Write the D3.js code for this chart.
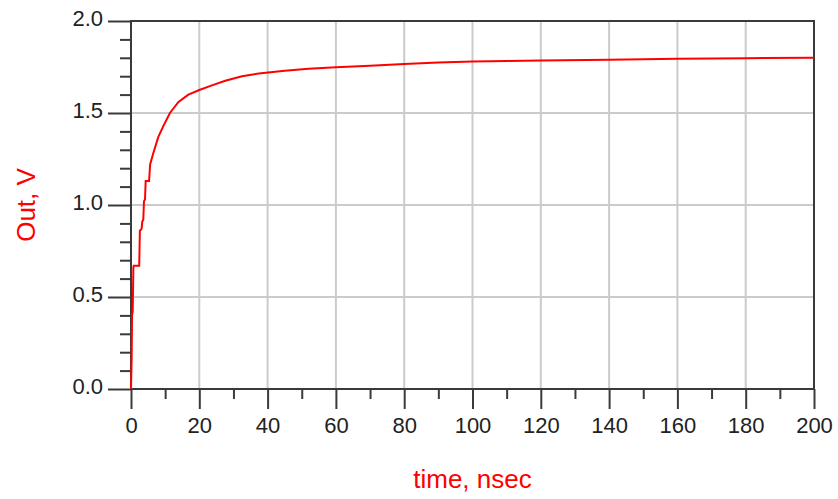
<!DOCTYPE html>
<html>
<head>
<meta charset="utf-8">
<script src="https://cdn.jsdelivr.net/npm/d3@7"></script>
<style>
	body { margin: 0; background: #fff; }
	text { font-family: "Liberation Sans", Arial, sans-serif; }
</style>
</head>
<body>
<svg id="chart" width="838" height="499"></svg>
<script>
	var timeNs = [0, 0.2, 0.3, 0.5, 0.7, 0.8, 2.4, 2.6, 3.1, 3.3, 3.6, 3.8, 4.1, 4.3, 5.3, 5.6,
		6.5, 8.0, 9.5, 11.4, 13.9, 16.8, 20, 23.7, 27.6, 32.5, 37.4, 45, 52, 60, 70, 80, 90,
		100, 110, 120, 140, 160, 180, 200];
	var outV = [0, 0.17, 0.40, 0.42, 0.66, 0.67, 0.67, 0.86, 0.87, 0.91, 0.92, 1.02, 1.03, 1.13, 1.13, 1.22,
		1.28, 1.37, 1.43, 1.50, 1.56, 1.60, 1.625, 1.65, 1.675, 1.70, 1.715, 1.73, 1.74, 1.748, 1.757, 1.766, 1.774,
		1.78, 1.783, 1.786, 1.79, 1.795, 1.798, 1.80];
	var xMajorTicks = [0, 20, 40, 60, 80, 100, 120, 140, 160, 180, 200];
	var yMajorTicks = [0.0, 0.5, 1.0, 1.5, 2.0];
	var xLabel = "time, nsec",
		yLabel = "Out, V";

	var margin = {top: 21, right: 24, bottom: 110, left: 131},
		width = 838 - margin.left - margin.right,
		height = 499 - margin.top - margin.bottom;

	var svg = d3.select("#chart");
	var g = svg.append("g")
		.attr("transform", "translate(" + margin.left + "," + margin.top + ")");

	var x = d3.scaleLinear().domain([0, 200]).range([0, width]);
	var y = d3.scaleLinear().domain([0, 2]).range([height, 0]);

	//  grid
	g.append("g").selectAll("line")
		.data(xMajorTicks.slice(1, -1))
		.enter().append("line")
		.attr("x1", function(d) { return x(d); })
		.attr("x2", function(d) { return x(d); })
		.attr("y1", 0).attr("y2", height)
		.attr("stroke", "#cbcbcb").attr("stroke-width", 2);
	g.append("g").selectAll("line")
		.data(yMajorTicks.slice(1, -1))
		.enter().append("line")
		.attr("y1", function(d) { return y(d); })
		.attr("y2", function(d) { return y(d); })
		.attr("x1", 0).attr("x2", width)
		.attr("stroke", "#cbcbcb").attr("stroke-width", 2);

	//  minor ticks
	var xMinor = d3.range(0, 201, 10).filter(function(d) { return d % 20 !== 0; });
	var yMinor = d3.range(0, 21).map(function(d) { return d / 10; })
		.filter(function(d, i) { return i % 5 !== 0; });

	g.append("g")
		.attr("transform", "translate(0," + height + ")")
		.call(d3.axisBottom(x).tickValues(xMinor).tickSize(10).tickFormat(""))
		.call(function(s) { s.select(".domain").remove(); });
	g.append("g")
		.call(d3.axisLeft(y).tickValues(yMinor).tickSize(11).tickFormat(""))
		.call(function(s) { s.select(".domain").remove(); });

	//  major ticks + labels
	var xAxis = g.append("g")
		.attr("transform", "translate(0," + height + ")")
		.call(d3.axisBottom(x).tickValues(xMajorTicks).tickSize(20).tickPadding(8)
			.tickFormat(d3.format("d")));
	xAxis.select(".domain").remove();

	var yAxis = g.append("g")
		.call(d3.axisLeft(y).tickValues(yMajorTicks).tickSize(23).tickPadding(5)
			.tickFormat(d3.format(".1f")));
	yAxis.select(".domain").remove();

	svg.selectAll(".tick line").attr("stroke", "#3a3a3a").attr("stroke-width", 2);
	xAxis.selectAll("text").attr("font-size", 22).attr("fill", "#222");
	yAxis.selectAll("text").attr("font-size", 22).attr("fill", "#222").attr("dy", "0.2em");

	//  frame
	g.append("rect")
		.attr("width", width).attr("height", height)
		.attr("fill", "none").attr("stroke", "#3a3a3a").attr("stroke-width", 2);

	//  curve
	var line = d3.line()
		.x(function(d, i) { return x(timeNs[i]); })
		.y(function(d) { return y(d); });
	g.append("path")
		.datum(outV)
		.attr("fill", "none")
		.attr("stroke", "#ff0000")
		.attr("stroke-width", 2)
		.attr("d", line);

	//  axis titles
	svg.append("text")
		.attr("x", margin.left + width / 2)
		.attr("y", 488)
		.attr("text-anchor", "middle")
		.attr("font-size", 26)
		.attr("fill", "#ff0000")
		.text(xLabel);
	svg.append("text")
		.attr("transform", "translate(35," + (margin.top + height / 2) + ") rotate(-90)")
		.attr("text-anchor", "middle")
		.attr("font-size", 26)
		.attr("fill", "#ff0000")
		.text(yLabel);
</script>
</body>
</html>
